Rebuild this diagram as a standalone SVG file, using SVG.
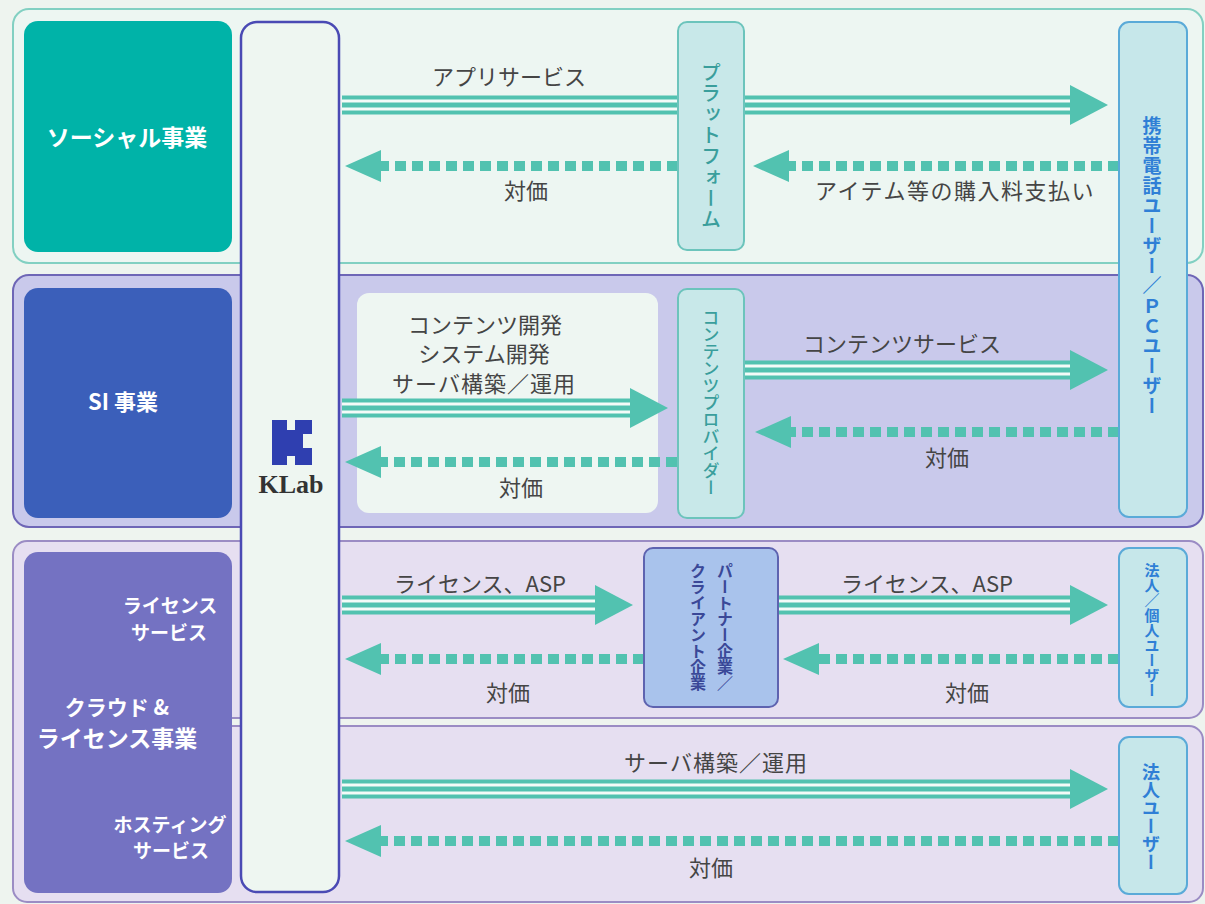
<svg xmlns="http://www.w3.org/2000/svg" width="1205" height="904" viewBox="0 0 1205 904">
<style>
text { font-family: "Noto Sans CJK JP", "Noto Sans", sans-serif; }
.lbl { font-size: 22px; fill: #454545; text-anchor: middle; }
.wt { fill: #ffffff; font-weight: bold; text-anchor: middle; }
.vt { writing-mode: vertical-rl; text-anchor: middle; font-weight: bold; }
.tealtx { fill: #3a9e9c; font-weight: 500; }
.bluetx { fill: #2f7fd6; }
.navtx { fill: #3a4898; }
.band { stroke-width: 2; }
.sideb { fill: #c8e8e9; stroke: #6cc4bc; stroke-width: 2; }
.userb { fill: #c6e7ea; stroke: #5aaad8; stroke-width: 2; }
.s1 { fill: none; stroke: #52c2b0; stroke-width: 19; }
.s2 { fill: none; stroke: #f4fbf8; stroke-width: 11; }
.s3 { fill: none; stroke: #52c2b0; stroke-width: 5; }
.dsh { fill: none; stroke: #52c2b0; stroke-width: 10; stroke-dasharray: 11 6; }
</style>
<defs>
<marker id="hs" markerUnits="userSpaceOnUse" viewBox="0 0 38 40" markerWidth="38" markerHeight="40" refX="0" refY="20" orient="auto">
<path d="M0,0 L38,20 L0,40 Z" fill="#52c2b0"/>
</marker>
<marker id="hd" markerUnits="userSpaceOnUse" viewBox="0 0 36 32" markerWidth="36" markerHeight="32" refX="0" refY="16" orient="auto">
<path d="M0,0 L36,16 L0,32 Z" fill="#52c2b0"/>
</marker>
</defs>

<rect x="0" y="0" width="1205" height="904" fill="#eef4ef"/>

<g id="bands">
<rect class="band" x="13" y="9" width="1190" height="254" rx="16" fill="#edf6f2" stroke="#82d0c2"/>
<rect class="band" x="13" y="275" width="1190" height="252" rx="16" fill="#c9c9eb" stroke="#6e66b6"/>
<rect class="band" x="13" y="541" width="1190" height="177" rx="14" fill="#e6dff1" stroke="#9b8cc4"/>
<rect class="band" x="13" y="726" width="1190" height="176" rx="14" fill="#e6dff1" stroke="#9b8cc4"/>
<rect x="14" y="700" width="14" height="45" fill="#e6dff1"/>
<line x1="13" y1="700" x2="13" y2="745" stroke="#9b8cc4" stroke-width="2"/>
</g>

<g id="klab">
<rect x="241" y="22" width="98" height="870" rx="16" fill="#eef6f1" stroke="#4a4ab4" stroke-width="2.5"/>
<path d="M272,420 H287 V430 H295 V420 H312 V434 H303 V448 H312 V465 H295 V456 H287 V465 H272 Z" fill="#2f3fb0"/>
<text x="291" y="493" style="font-family: 'Liberation Serif', serif; font-size: 26px; font-weight: bold; fill: #333333; text-anchor: middle;">KLab</text>
</g>

<g id="social">
<rect x="24" y="21" width="208" height="231" rx="14" fill="#00b3a8"/>
<text class="wt" x="127" y="146" style="font-size: 23px;">ソーシャル事業</text>
</g>

<g id="si">
<rect x="24" y="288" width="208" height="230" rx="14" fill="#3b5fba"/>
<text class="wt" x="123" y="410" style="font-size: 22px;">SI 事業</text>
</g>

<g id="cloud">
<rect x="24" y="552" width="208" height="341" rx="14" fill="#7472c2"/>
<text class="wt" x="170" y="613" style="font-size: 19px;">ライセンス</text>
<text class="wt" x="169" y="640" style="font-size: 19px;">サービス</text>
<text class="wt" x="117" y="715" style="font-size: 21px;">クラウド &amp;</text>
<text class="wt" x="117" y="747" style="font-size: 23px;">ライセンス事業</text>
<text class="wt" x="170" y="832" style="font-size: 19px;">ホスティング</text>
<text class="wt" x="171" y="858" style="font-size: 19px;">サービス</text>
</g>

<g id="si-inner">
<rect x="357" y="293" width="301" height="220" rx="12" fill="#eef6f2"/>
</g>

<g id="connectors">
<path class="s1" d="M342,105 H1070" marker-end="url(#hs)"/><path class="s2" d="M342,105 H1070"/><path class="s3" d="M342,105 H1070"/>
<path class="s1" d="M342,408 H630" marker-end="url(#hs)"/><path class="s2" d="M342,408 H630"/><path class="s3" d="M342,408 H630"/>
<path class="s1" d="M745,370 H1070" marker-end="url(#hs)"/><path class="s2" d="M745,370 H1070"/><path class="s3" d="M745,370 H1070"/>
<path class="s1" d="M342,605 H595" marker-end="url(#hs)"/><path class="s2" d="M342,605 H595"/><path class="s3" d="M342,605 H595"/>
<path class="s1" d="M779,605 H1070" marker-end="url(#hs)"/><path class="s2" d="M779,605 H1070"/><path class="s3" d="M779,605 H1070"/>
<path class="s1" d="M342,789 H1070" marker-end="url(#hs)"/><path class="s2" d="M342,789 H1070"/><path class="s3" d="M342,789 H1070"/>
<path class="dsh" d="M1119,166 H789" marker-end="url(#hd)"/>
<path class="dsh" d="M678,166 H381" marker-end="url(#hd)"/>
<path class="dsh" d="M677,462 H381" marker-end="url(#hd)"/>
<path class="dsh" d="M1119,432 H791" marker-end="url(#hd)"/>
<path class="dsh" d="M644,659 H381" marker-end="url(#hd)"/>
<path class="dsh" d="M1119,659 H819" marker-end="url(#hd)"/>
<path class="dsh" d="M1119,841 H381" marker-end="url(#hd)"/>
<text class="lbl" x="509" y="85">アプリサービス</text>
<text class="lbl" x="526" y="199">対価</text>
<text class="lbl" x="955" y="199" style="letter-spacing: 1.5px;">アイテム等の購入料支払い</text>
<text class="lbl" x="485" y="333">コンテンツ開発</text>
<text class="lbl" x="484" y="362">システム開発</text>
<text class="lbl" x="484" y="392" style="letter-spacing: 1px;">サーバ構築／運用</text>
<text class="lbl" x="521" y="496">対価</text>
<text class="lbl" x="902" y="352">コンテンツサービス</text>
<text class="lbl" x="947" y="466">対価</text>
<text class="lbl" x="480" y="592">ライセンス、ASP</text>
<text class="lbl" x="927" y="592">ライセンス、ASP</text>
<text class="lbl" x="508" y="701">対価</text>
<text class="lbl" x="967" y="701">対価</text>
<text class="lbl" x="716" y="771" style="letter-spacing: 1px;">サーバ構築／運用</text>
<text class="lbl" x="711" y="876">対価</text>
</g>

<g id="platform">
<rect class="sideb" x="678" y="22" width="66" height="228" rx="9"/>
<text class="vt tealtx" x="711" y="146" style="font-size: 20px; letter-spacing: 1px;">プラットフォーム</text>
</g>

<g id="provider">
<rect class="sideb" x="678" y="289" width="66" height="229" rx="9"/>
<text class="vt tealtx" x="711" y="403" style="font-size: 17px;">コンテンツプロバイダー</text>
</g>

<g id="partner">
<rect x="644" y="548" width="134" height="159" rx="9" fill="#a9c3ec" stroke="#5e63b0" stroke-width="2"/>
<text class="vt navtx" x="725" y="627" style="font-size: 16px;">パートナー企業／</text>
<text class="vt navtx" x="698" y="627" style="font-size: 16px;">クライアント企業</text>
</g>

<g id="mobile-users">
<rect class="userb" x="1119" y="22" width="68" height="495" rx="10"/>
<text class="vt bluetx" x="1152" y="266" style="font-size: 19px; letter-spacing: 1px;">携帯電話ユーザー／ＰＣユーザー</text>
</g>

<g id="corp-personal-users">
<rect class="userb" x="1119" y="548" width="68" height="159" rx="10"/>
<text class="vt bluetx" x="1152" y="630" style="font-size: 15px;">法人／個人ユーザー</text>
</g>

<g id="corp-users">
<rect class="userb" x="1119" y="737" width="68" height="157" rx="10"/>
<text class="vt bluetx" x="1151" y="817" style="font-size: 18px;">法人ユーザー</text>
</g>
</svg>
